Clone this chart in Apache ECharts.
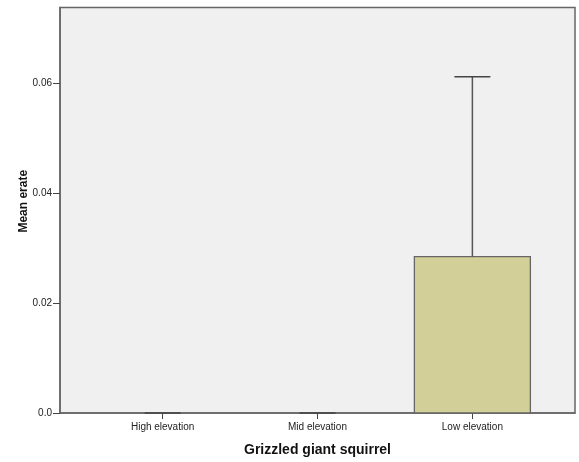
<!DOCTYPE html>
<html><head><meta charset="utf-8">
<script src="https://cdn.jsdelivr.net/npm/echarts@6/dist/echarts.min.js"></script>
<style>html,body{margin:0;padding:0;background:#fff}#c{width:579px;height:462px}</style>
</head><body><div id="c"></div>
<script>
var categories = ['High elevation', 'Mid elevation', 'Low elevation'];
var means = [0, 0, 0.02842];
var upperCI = [0, 0, 0.06115];
var yTicks = [0, 0.02, 0.04, 0.06];

var chart = echarts.init(document.getElementById('c'));
var idx = categories.map(function (c, i) { return i; });
chart.setOption({
  animation: false,
  textStyle: { fontFamily: 'Liberation Sans, Arial, sans-serif' },
  grid: { left: 60, right: 4, top: 7.5, bottom: 49, containLabel: false, outerBoundsMode: 'none',
    show: true, backgroundColor: '#f0f0f0', borderColor: '#666', borderWidth: 1.5 },
  xAxis: {
    type: 'value', min: -0.6626, max: 2.6626,
    name: 'Grizzled giant squirrel', nameLocation: 'middle', nameGap: 30, nameMoveOverlap: false,
    nameTextStyle: { fontWeight: 'bold', fontSize: 14, color: '#111' },
    splitLine: { show: false },
    axisLine: { show: true, onZero: false, lineStyle: { color: '#666', width: 1.5 } },
    axisTick: { show: true, length: 6, lineStyle: { color: '#444' }, customValues: idx },
    axisLabel: { customValues: idx, color: '#222', fontSize: 10, margin: 9,
      formatter: function (v) { return categories[Math.round(v)]; } }
  },
  yAxis: {
    type: 'value', min: 0, max: 0.07373,
    name: 'Mean erate', nameLocation: 'middle', nameGap: 30, nameMoveOverlap: false,
    nameTextStyle: { fontWeight: 'bold', fontSize: 12, color: '#111', padding: [0, 0, 0, 18] },
    splitLine: { show: false },
    axisLine: { show: true, onZero: false, lineStyle: { color: '#666', width: 1.5 } },
    axisTick: { show: true, length: 7, lineStyle: { color: '#444' }, customValues: yTicks },
    axisLabel: { customValues: yTicks, color: '#222', fontSize: 10, margin: 8,
      formatter: function (v) { return v === 0 ? '0.0' : v.toFixed(2); } }
  },
  series: [
    {
      type: 'custom',
      renderItem: function (params, api) {
        var i = api.value(0), m = api.value(1);
        var p0 = api.coord([i, 0]), p1 = api.coord([i, m]);
        var w = 116;
        if (m <= 0) return { type: 'group', children: [] };
        return { type: 'rect', shape: { x: p0[0] - w / 2, y: p1[1], width: w, height: p0[1] - p1[1] },
          style: { fill: '#d3cf98', stroke: '#666', lineWidth: 1.3 } };
      },
      data: idx.map(function (i) { return [i, means[i]]; }),
      z: 2
    },
    {
      type: 'custom',
      renderItem: function (params, api) {
        var i = api.value(0), m = api.value(1), u = api.value(2);
        var pm = api.coord([i, m]), pu = api.coord([i, u]);
        var cw = 18;
        return { type: 'group', children: [
          { type: 'line', shape: { x1: pm[0], y1: pm[1], x2: pu[0], y2: pu[1] }, style: { stroke: '#555', lineWidth: 1.5 } },
          { type: 'line', shape: { x1: pu[0] - cw, y1: pu[1], x2: pu[0] + cw, y2: pu[1] }, style: { stroke: '#444', lineWidth: 1.5 } }
        ] };
      },
      data: idx.map(function (i) { return [i, means[i], upperCI[i]]; }),
      z: 3
    }
  ]
});
</script></body></html>
